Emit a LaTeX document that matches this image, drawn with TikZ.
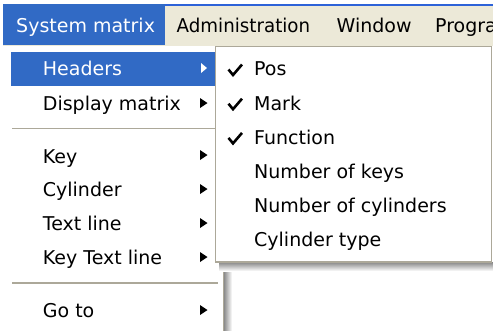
\documentclass[tikz,border=0pt]{standalone}
\usepackage{fontspec}
\setmainfont{DejaVu Sans}
\begin{document}
\begin{tikzpicture}[x=1pt,y=-1pt,
  lbl/.style={anchor=base west,inner sep=0pt,font=\fontsize{19}{19}\selectfont,text=black},
  sel/.style={lbl,text=white},
  sepline/.style={draw=sep,line width=1.3pt},
  tick/.style={draw=black,line width=2.6pt,line join=miter}]
\definecolor{hl}{HTML}{316AC5}
\definecolor{bar}{HTML}{ECE9D8}
\definecolor{sep}{HTML}{ACA899}
\definecolor{topline}{HTML}{2D62D8}
\useasboundingbox (0,0) rectangle (493,330);
\clip (0,0) rectangle (493,330);
\fill[white] (0,0) rectangle (493,330);
% menu bar
\fill[bar] (3,5) rectangle (493,46);
\fill[topline] (3,3.5) rectangle (493,6);
\fill[hl] (3,3.5) rectangle (165,45);
\node[sel] (m1) at (16,32) {System matrix};
\node[lbl] (m2) at (176.5,32) {\scalebox{0.96}[1]{Administration}};
\node[lbl] (m3) at (336.5,32) {Window};
\node[lbl] (m4) at (435,32) {Progra};
% dropdown menu
\shade[left color=black!45,right color=white] (224,262) rectangle (232,335);
\fill[white] (8,47) rectangle (223,335);
\draw[sep,line width=1pt] (223,47) -- (223,335);
\fill[hl] (10.5,52.3) rectangle (215,85.7);
\node[sel] (d1) at (42.7,75.4) {Headers};
\node[lbl] (d2) at (42.7,110) {Display matrix};
\draw[sepline] (12,128.3) -- (218,128.3);
\node[lbl] (d3) at (42.7,163) {Key};
\node[lbl] (d4) at (42.7,196.5) {Cylinder};
\node[lbl] (d5) at (42.7,230) {Text line};
\node[lbl] (d6) at (42.7,264) {Key Text line};
\draw[sepline] (12,283) -- (218,283);
\node[lbl] (d7) at (42.7,317) {Go to};
\fill[white] (201,63) -- (207,68) -- (201,73) -- cycle;
\foreach \y in {103,155,189,223,257,310}{
  \fill[black] (200,\y-5) -- (207.5,\y) -- (200,\y+5) -- cycle;
}
% submenu
\shade[top color=black!45,bottom color=white] (219,262.5) rectangle (493,271);
\fill[white] (215.5,46.5) rectangle (491.5,262);
\draw[sep,line width=1.2pt] (215.5,46.5) rectangle (491.5,262);
\draw[tick] (228.5,69.5) -- (233,75) -- (242,64.5);
\draw[tick] (228.5,103.7) -- (233,109.2) -- (242,98.7);
\draw[tick] (228.5,137.9) -- (233,143.4) -- (242,132.9);
\node[lbl] (s1) at (254,75.9) {Pos};
\node[lbl] (s2) at (254,110.1) {Mark};
\node[lbl] (s3) at (254,144.3) {Function};
\node[lbl] (s4) at (254,178.5) {Number of keys};
\node[lbl] (s5) at (254,212.7) {Number of cylinders};
\node[lbl] (s6) at (254,246.9) {Cylinder type};
\end{tikzpicture}
\end{document}
